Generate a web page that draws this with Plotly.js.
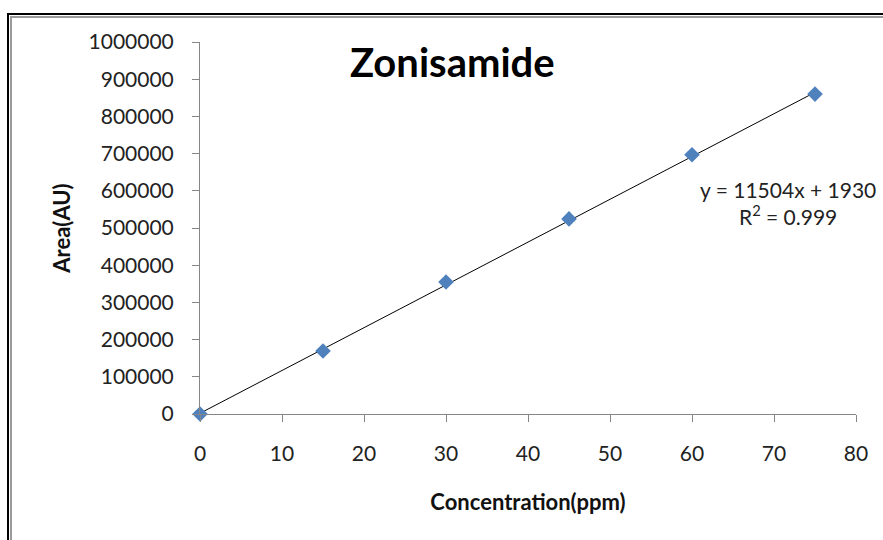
<!DOCTYPE html>
<html>
<head>
<meta charset="utf-8">
<script src="https://cdn.plot.ly/plotly-3.0.1.min.js"></script>
<style>
html,body{margin:0;padding:0;background:#fff;}
#wrap{position:relative;width:883px;height:540px;overflow:hidden;}
#chart{position:absolute;left:0;top:0;width:883px;height:540px;}
#f1{position:absolute;left:7px;top:13px;width:1000px;height:1000px;border-left:2px solid #000;border-top:2px solid #000;pointer-events:none;}
#f2{position:absolute;left:10px;top:16px;width:1000px;height:1000px;border-left:2px solid #9a9a9a;border-top:2px solid #9a9a9a;pointer-events:none;}
</style>
</head>
<body>
<div id="wrap">
<div id="chart"></div>
<div id="f1"></div>
<div id="f2"></div>
</div>
<script>
// Data
var concentration = [0, 15, 30, 45, 60, 75];
var area = [0, 169500, 355000, 524500, 697000, 860000];
var slope = 11504;
var intercept = 1930;
var rSquared = "0.999";
var xTicks = [0, 10, 20, 30, 40, 50, 60, 70, 80];
var yTicks = [0, 100000, 200000, 300000, 400000, 500000, 600000, 700000, 800000, 900000, 1000000];

var trendX = [concentration[0], concentration[concentration.length - 1]];
var trendY = trendX.map(function (x) { return slope * x + intercept; });

var font = "Lato, 'Open Sans', sans-serif";

var traces = [
  {
    x: trendX, y: trendY, type: "scatter", mode: "lines",
    line: {color: "#000000", width: 1}, hoverinfo: "skip", showlegend: false,
    cliponaxis: false
  },
  {
    x: concentration, y: area, type: "scatter", mode: "markers",
    marker: {symbol: "diamond", size: 12, color: "#4F81BD", line: {width: 0}},
    showlegend: false, cliponaxis: false
  }
];

var layout = {
  width: 883, height: 540,
  margin: {l: 200, r: 27, t: 42, b: 126},
  paper_bgcolor: "#ffffff", plot_bgcolor: "#ffffff",
  font: {family: font, color: "#222222", size: 18},
  showlegend: false,
  xaxis: {
    range: [0, 80], tickvals: xTicks, ticktext: xTicks.map(String),
    showgrid: false, zeroline: false, showline: true, linecolor: "#868686", linewidth: 1,
    ticks: "outside", ticklen: 7, tickcolor: "#868686", tickwidth: 1,
    ticklabelstandoff: 14,
    tickfont: {family: font, size: 21, color: "#222222"},
    title: {text: "Concentration(ppm)", font: {family: font, size: 22, color: "#111111", weight: "bold"}, standoff: 30}
  },
  yaxis: {
    range: [0, 1000000], tickvals: yTicks, ticktext: yTicks.map(String),
    showgrid: false, zeroline: false, showline: true, linecolor: "#868686", linewidth: 1,
    ticks: "outside", ticklen: 7, tickcolor: "#868686", tickwidth: 1,
    ticklabelstandoff: 14,
    tickfont: {family: font, size: 21, color: "#222222"},
    title: {text: "Area(AU)", font: {family: font, size: 22, color: "#111111", weight: "bold"}, standoff: 11}
  },
  annotations: [
    {
      text: "<b>Zonisamide</b>", xref: "paper", yref: "paper",
      x: (452 - 200) / 656, y: (414 - 62) / 372, xanchor: "center", yanchor: "middle",
      showarrow: false, font: {family: font, size: 40, color: "#000000"}
    },
    {
      text: "y = " + slope + "x + " + intercept + "<br>R<sup>2</sup> = " + rSquared,
      xref: "paper", yref: "paper",
      x: (878 - 200) / 656, y: (414 - 203) / 372, xanchor: "right", yanchor: "middle",
      align: "center", showarrow: false,
      font: {family: font, size: 21, color: "#222222"}
    }
  ]
};

Plotly.newPlot("chart", traces, layout, {displayModeBar: false, staticPlot: true});
</script>
</body>
</html>
